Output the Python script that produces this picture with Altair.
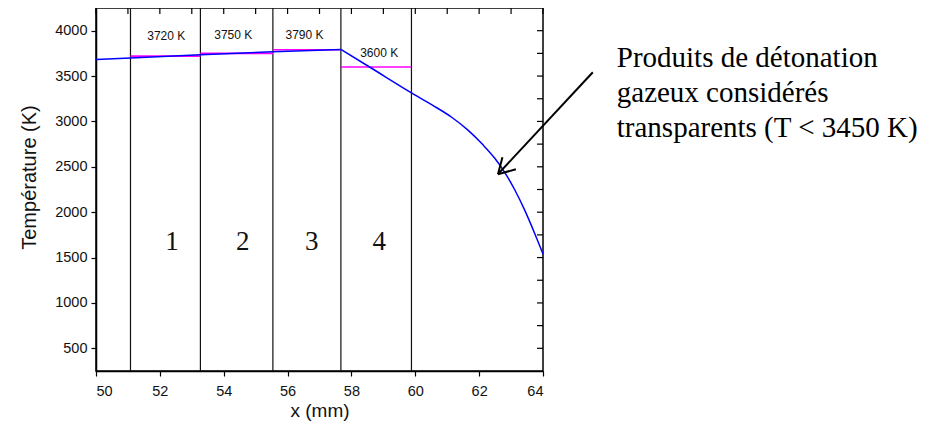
import altair as alt
import pandas as pd

# ---- data ----
x_curve = [50.0, 51.08, 53.27, 55.54, 57.67, 58.58, 59.88, 60.51, 61.14, 61.65, 62.12,
           62.49, 62.80, 63.11, 63.43, 63.74, 64.0]
t_curve = [3682, 3700, 3735, 3768, 3793, 3597, 3315, 3185, 3046, 2904, 2742,
           2594, 2439, 2250, 2020, 1766, 1540]
peak_x = 57.67

bounds = [51.08, 53.27, 55.54, 57.67, 59.88]

seg_start = [51.08, 53.27, 55.54, 57.67]
seg_end = [53.27, 55.54, 57.67, 59.88]
seg_T = [3720, 3750, 3790, 3600]
seg_label = ["3720 K", "3750 K", "3790 K", "3600 K"]
seg_label_x = [52.2, 54.3, 56.53, 58.87]
seg_label_T = [3940, 3955, 3955, 3754]

zone_label = ["1", "2", "3", "4"]
zone_x = [52.38, 54.6, 56.76, 58.87]
zone_T = [1668, 1668, 1668, 1668]

arrow_x = [65.56, 62.59, 62.59]
arrow_T = [3542, 2419, 2419]
arrow_x2 = [62.59, 62.73, 63.15]
arrow_T2 = [2419, 2606, 2473]

note_lines = ["Produits de détonation", "gazeux considérés", "transparents (T < 3450 K)"]
note_x = [66.31, 66.31, 66.31]
note_T = [3597, 3212, 2826]

x_ticks = list(range(50, 65))
y_ticks = list(range(500, 4001, 250))

W, H = 447, 363
X_DOM = [50, 64]
Y_DOM = [250, 4250]

xs = alt.Scale(domain=X_DOM, nice=False, zero=False)
ys = alt.Scale(domain=Y_DOM, nice=False, zero=False)

curve_df = pd.DataFrame({"x": x_curve, "T": t_curve})
curve_a = curve_df[curve_df["x"] <= peak_x]
curve_b = curve_df[curve_df["x"] >= peak_x]
bounds_df = pd.DataFrame({"x": bounds})
seg_df = pd.DataFrame({"x": seg_start, "x2": seg_end, "T": seg_T})
seglab_df = pd.DataFrame({"x": seg_label_x, "T": seg_label_T, "lab": seg_label})
zone_df = pd.DataFrame({"x": zone_x, "T": zone_T, "lab": zone_label})
arrow_df = pd.DataFrame({"x": arrow_x, "T": arrow_T, "x2": arrow_x2, "T2": arrow_T2})
note_df = pd.DataFrame({"x": note_x, "T": note_T, "lab": note_lines})
xt_df = pd.DataFrame({"x": x_ticks})
yt_df = pd.DataFrame({"T": y_ticks})

x_axis = alt.Axis(
    title="x (mm)", values=x_ticks, format="d",
    labelExpr="datum.value % 2 == 0 ? datum.label : ''",
    grid=False, tickSize=5, labelPadding=8, titlePadding=4,
)
y_axis = alt.Axis(
    title="Température (K)", values=y_ticks, format="d",
    labelExpr="datum.value % 500 == 0 ? datum.label : ''",
    grid=False, tickSize=5, labelPadding=4, titlePadding=15,
    titleY=169, titleFontSize=20,
)

vlines = alt.Chart(bounds_df).mark_rule(color="#111111", strokeWidth=1.2).encode(
    x=alt.X("x:Q", scale=xs, axis=x_axis),
    y=alt.value(0), y2=alt.value(H),
)

segs = alt.Chart(seg_df).mark_rule(color="#ff00ff", strokeWidth=1.6).encode(
    x=alt.X("x:Q", scale=xs), x2="x2:Q",
    y=alt.Y("T:Q", scale=ys, axis=y_axis),
)

line_a = alt.Chart(curve_a).mark_line(color="#0000ff", strokeWidth=1.5).encode(
    x=alt.X("x:Q", scale=xs),
    y=alt.Y("T:Q", scale=ys),
)
line_b = alt.Chart(curve_b).mark_line(color="#0000ff", strokeWidth=1.5, interpolate="monotone").encode(
    x=alt.X("x:Q", scale=xs),
    y=alt.Y("T:Q", scale=ys),
)

seglab = alt.Chart(seglab_df).mark_text(
    font="Liberation Sans", fontSize=12, color="#111111", baseline="middle"
).encode(x=alt.X("x:Q", scale=xs), y=alt.Y("T:Q", scale=ys), text="lab:N")

zones = alt.Chart(zone_df).mark_text(
    font="Liberation Serif", fontSize=27, color="#111111", baseline="middle"
).encode(x=alt.X("x:Q", scale=xs), y=alt.Y("T:Q", scale=ys), text="lab:N")

arrow = alt.Chart(arrow_df).mark_rule(color="#000000", strokeWidth=2).encode(
    x=alt.X("x:Q", scale=xs), x2="x2:Q",
    y=alt.Y("T:Q", scale=ys), y2="T2:Q",
)

note = alt.Chart(note_df).mark_text(
    font="Liberation Serif", fontSize=29, color="#000000", align="left", baseline="alphabetic"
).encode(x=alt.X("x:Q", scale=xs), y=alt.Y("T:Q", scale=ys), text="lab:N")

top_ticks = alt.Chart(xt_df).mark_rule(color="#000000", strokeWidth=1.2).encode(
    x=alt.X("x:Q", scale=xs), y=alt.value(0), y2=alt.value(6),
)
right_ticks = alt.Chart(yt_df).mark_rule(color="#000000", strokeWidth=1.2).encode(
    y=alt.Y("T:Q", scale=ys), x=alt.value(W - 6), x2=alt.value(W),
)

chart = alt.layer(
    vlines, segs, line_a, line_b, seglab, zones, arrow, note, top_ticks, right_ticks
).properties(
    width=W, height=H,
    autosize=alt.AutoSizeParams(type="none"),
    padding={"left": 88, "top": 0, "right": 378, "bottom": 54},
).configure_view(
    stroke="#000000", strokeWidth=1.5
).configure_axis(
    domainColor="#000000", domainWidth=1.5, tickColor="#000000", tickWidth=1.2,
    labelFont="Liberation Sans", labelFontSize=14.5, labelColor="#111111",
    titleFont="Liberation Sans", titleFontSize=19, titleFontWeight="normal", titleColor="#111111",
)

chart.save("out.html", embed_options={"renderer": "svg", "actions": False})
